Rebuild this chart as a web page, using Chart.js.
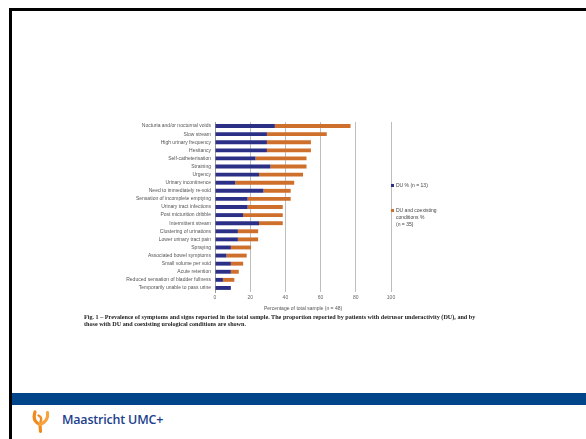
<!DOCTYPE html>
<html lang="en">
<head>
    <meta charset="UTF-8">
    <title>Prevalence of symptoms and signs</title>
    <script src="https://cdn.jsdelivr.net/npm/chart.js"></script>
    <style>
        body {
            margin: 0;
            width: 586px;
            height: 439px;
            background: #ffffff;
            position: relative;
            overflow: hidden;
            font-family: "Liberation Sans", Arial, sans-serif;
        }
        .frame-top {
            position: absolute; left: 9px; top: 8px; width: 577px; height: 3px; background: #000;
        }
        .frame-left {
            position: absolute; left: 9px; top: 8px; width: 3px; height: 431px; background: #000;
        }
        .band {
            position: absolute; left: 12px; top: 393px; width: 574px; height: 12px; background: #00448a;
        }
        #chart-box {
            position: absolute; left: 100px; top: 115px; width: 300px; height: 197px;
            filter: blur(0.35px);
        }
        .legend {
            position: absolute; font-size: 5px; color: #444; line-height: 7px;
            filter: blur(0.35px);
        }
        .legend i {
            display: inline-block; width: 3px; height: 3px; margin-right: 2px; vertical-align: middle;
        }
        .caption {
            position: absolute; left: 84px; top: 314px;
            font-family: "Liberation Serif", serif; font-weight: bold; font-size: 6.15px;
            line-height: 7px; color: #222; white-space: nowrap;
            filter: blur(0.35px);
        }
        .brand {
            position: absolute; left: 62px; top: 411px;
            font-family: "Open Sans", sans-serif; font-weight: 600; font-size: 12.5px;
            color: #1d3f8c; letter-spacing: -0.2px;
        }
        .logo { position: absolute; left: 31px; top: 408px; }
    </style>
</head>
<body>

<div class="frame-top"></div>
<div class="frame-left"></div>

<div id="chart-box">
    <canvas id="symptomChart"></canvas>
</div>

<div class="legend" style="left:391px; top:182px;"><i style="background:#2b2f86"></i>DU % (n = 13)</div>
<div class="legend" style="left:391px; top:207px;"><i style="background:#cf6f2c"></i>DU and coexisting<br><span style="padding-left:5px">conditions %</span><br><span style="padding-left:5px">(n = 35)</span></div>

<div class="caption">Fig. 1 – Prevalence of symptoms and signs reported in the total sample. The proportion reported by patients with detrusor underactivity (DU), and by<br>those with DU and coexisting urological conditions are shown.</div>

<div class="band"></div>

<svg class="logo" width="20" height="26" viewBox="0 0 20 26">
    <path d="M4 4 C2 10 4 14.5 9 16.5 L9.5 23.5" fill="none" stroke="#f08a1c" stroke-width="3.2" stroke-linecap="round"/>
    <path d="M16.5 4.5 C17.5 10 14.5 14.5 9 16.5" fill="none" stroke="#f7a23f" stroke-width="3.2" stroke-linecap="round"/>
    <path d="M7.5 7.5 C10 8.5 11 11 9.5 13.5" fill="none" stroke="#f08a1c" stroke-width="2.4" stroke-linecap="round"/>
</svg>
<div class="brand">Maastricht UMC+</div>

<script>
    // Symptoms, top to bottom
    const categories = [
        'Nocturia and/or nocturnal voids',
        'Slow stream',
        'High urinary frequency',
        'Hesitancy',
        'Self-catheterisation',
        'Straining',
        'Urgency',
        'Urinary incontinence',
        'Need to immediately re-void',
        'Sensation of incomplete emptying',
        'Urinary tract infections',
        'Post micturition dribble',
        'Intermittent stream',
        'Clustering of urinations',
        'Lower urinary tract pain',
        'Spraying',
        'Associated bowel symptoms',
        'Small volume per void',
        'Acute retention',
        'Reduced sensation of bladder fullness',
        'Temporarily unable to pass urine'
    ];

    // DU only (n = 13), % of total sample
    const duValues = [34, 29.5, 29.5, 29.5, 23, 31.5, 25, 11.5, 27.5, 18.5, 18.5, 16, 25, 13, 13, 9, 6.5, 9, 9, 4.5, 9];

    // DU and coexisting conditions (n = 35), % of total sample
    const coexistingValues = [43, 34, 25, 25, 29, 20.5, 25, 33.5, 15.5, 24.5, 20, 22.5, 13.5, 11.5, 11.5, 11.5, 11.5, 7, 4.5, 6.5, 0];

    const xTicks = [0, 20, 40, 60, 80, 100];

    const navy = '#2b2f86';
    const orange = '#cf6f2c';

    const ctx = document.getElementById('symptomChart').getContext('2d');

    new Chart(ctx, {
        type: 'bar',
        data: {
            labels: categories,
            datasets: [
                {
                    label: 'DU % (n = 13)',
                    data: duValues,
                    backgroundColor: navy,
                    barPercentage: 0.48,
                    categoryPercentage: 1
                },
                {
                    label: 'DU and coexisting conditions % (n = 35)',
                    data: coexistingValues,
                    backgroundColor: orange,
                    barPercentage: 0.48,
                    categoryPercentage: 1
                }
            ]
        },
        options: {
            indexAxis: 'y',
            responsive: true,
            maintainAspectRatio: false,
            animation: false,
            layout: {
                padding: { top: 6, right: 9, left: 0, bottom: 0 }
            },
            plugins: {
                legend: { display: false },
                tooltip: { enabled: false }
            },
            scales: {
                x: {
                    stacked: true,
                    min: 0,
                    max: 100,
                    afterBuildTicks: scale => {
                        scale.ticks = xTicks.map(v => ({ value: v }));
                    },
                    afterFit: scale => { scale.height = 20; },
                    grid: {
                        color: '#bdbdbd',
                        lineWidth: 1,
                        drawTicks: false
                    },
                    border: { display: false },
                    ticks: {
                        padding: 3,
                        color: '#666',
                        font: { size: 5, family: 'Liberation Sans' }
                    },
                    title: {
                        display: true,
                        text: 'Percentage of total sample (n = 48)',
                        color: '#555',
                        padding: { top: 2, bottom: 0 },
                        font: { size: 5, family: 'Liberation Sans' }
                    }
                },
                y: {
                    stacked: true,
                    afterFit: scale => { scale.width = 115; },
                    grid: { display: false, drawTicks: false },
                    border: { display: true, color: '#9a9a9a' },
                    ticks: {
                        autoSkip: false,
                        padding: 4,
                        color: '#555',
                        font: { size: 5, family: 'Liberation Sans' }
                    }
                }
            }
        }
    });
</script>

</body>
</html>
